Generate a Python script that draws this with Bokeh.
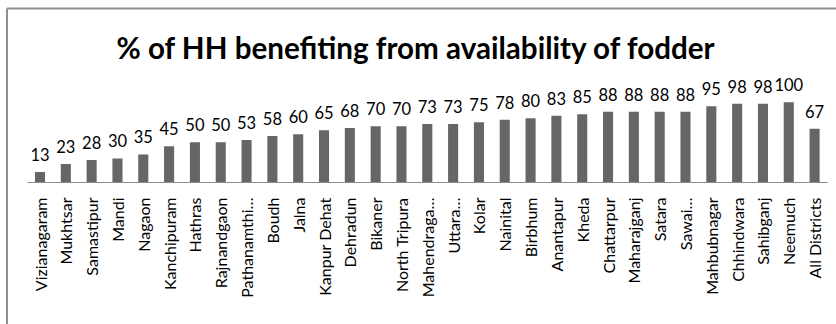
import math
from bokeh.plotting import figure
from bokeh.models import ColumnDataSource, Range1d, LinearAxis, FixedTicker
from bokeh.core.properties import value
from bokeh.embed import file_html
from bokeh.resources import INLINE

title_text = "% of HH benefiting from availability of fodder"

districts = ["Vizianagaram", "Mukhtsar", "Samastipur", "Mandi", "Nagaon",
             "Kanchipuram", "Hathras", "Rajnandgaon", "Pathanamthi\u2026",
             "Boudh", "Jalna", "Kanpur Dehat", "Dehradun", "Bikaner",
             "North Tripura", "Mahendraga\u2026", "Uttara\u2026", "Kolar",
             "Nainital", "Birbhum", "Anantapur", "Kheda", "Chattarpur",
             "Maharajganj", "Satara", "Sawai\u2026", "Mahbubnagar",
             "Chhindwara", "Sahibganj", "Neemuch", "All Districts"]

pct_benefiting = [13, 23, 28, 30, 35, 45, 50, 50, 53, 58, 60, 65, 68, 70, 70,
                  73, 73, 75, 78, 80, 83, 85, 88, 88, 88, 88, 95, 98, 98, 100,
                  67]

n = len(districts)
idx = list(range(n))

source = ColumnDataSource(data=dict(
    x=idx,
    pct=pct_benefiting,
    label=[str(v) for v in pct_benefiting],
))

W, H = 836, 324
px_per_cat = 25.82
first_center_px = 39.5
x_start = -first_center_px / px_per_cat
x_end = x_start + W / px_per_cat

px_per_unit = 0.803
base_px = 182.0
y_end = base_px / px_per_unit
y_start = -(H - base_px) / px_per_unit


def xpx(px):
    return x_start + px / px_per_cat


def ypx(py):
    return y_end - py / px_per_unit


p = figure(width=W, height=H, output_backend="svg", toolbar_location=None,
           x_range=Range1d(x_start, x_end), y_range=Range1d(y_start, y_end),
           x_axis_location=None, y_axis_location=None,
           min_border=0, min_border_left=0, min_border_right=0,
           min_border_top=0, min_border_bottom=0)
p.outline_line_color = None
p.background_fill_color = "white"
p.border_fill_color = "white"
p.xgrid.visible = False
p.ygrid.visible = False

# outer chart-area border (left and top edges are visible in the reference)
p.segment(x0=[xpx(6.5), xpx(6.5)], y0=[ypx(8.0), ypx(8.0)],
          x1=[xpx(6.5), xpx(W + 5)], y1=[ypx(H + 5), ypx(8.0)],
          line_color="#8f8f8f", line_width=2)

p.vbar(x="x", top="pct", width=0.39, bottom=0, source=source,
       fill_color="#666666", line_color=None)

p.text(x="x", y="pct", text="label", source=source,
       text_align="center", text_baseline="alphabetic", y_offset=-17.5,
       text_font=value("Lato"), text_font_size="16.5px", text_color="black")

xaxis = LinearAxis(ticker=FixedTicker(ticks=idx),
                   major_label_overrides={i: nm for i, nm in zip(idx, districts)})
xaxis.fixed_location = 0
xaxis.bounds = (-0.5, n - 0.5)
xaxis.axis_line_color = "#8c8c8c"
xaxis.axis_line_width = 1
xaxis.major_tick_line_color = None
xaxis.major_tick_out = 0
xaxis.major_tick_in = 0
xaxis.minor_tick_line_color = None
xaxis.major_label_orientation = math.pi / 2
xaxis.major_label_standoff = 15
xaxis.major_label_text_font = "Lato"
xaxis.major_label_text_font_size = "16px"
xaxis.major_label_text_color = "black"
p.add_layout(xaxis, "below")

title_src = ColumnDataSource(data=dict(x=[xpx(416)], y=[ypx(47.0)], t=[title_text]))
p.text(x="x", y="y", text="t", source=title_src,
       text_align="center", text_baseline="alphabetic",
       text_font=value("Lato"), text_font_style="bold", text_font_size="29.6px",
       text_color="black")

open("out.html", "w").write(file_html(p, INLINE))
